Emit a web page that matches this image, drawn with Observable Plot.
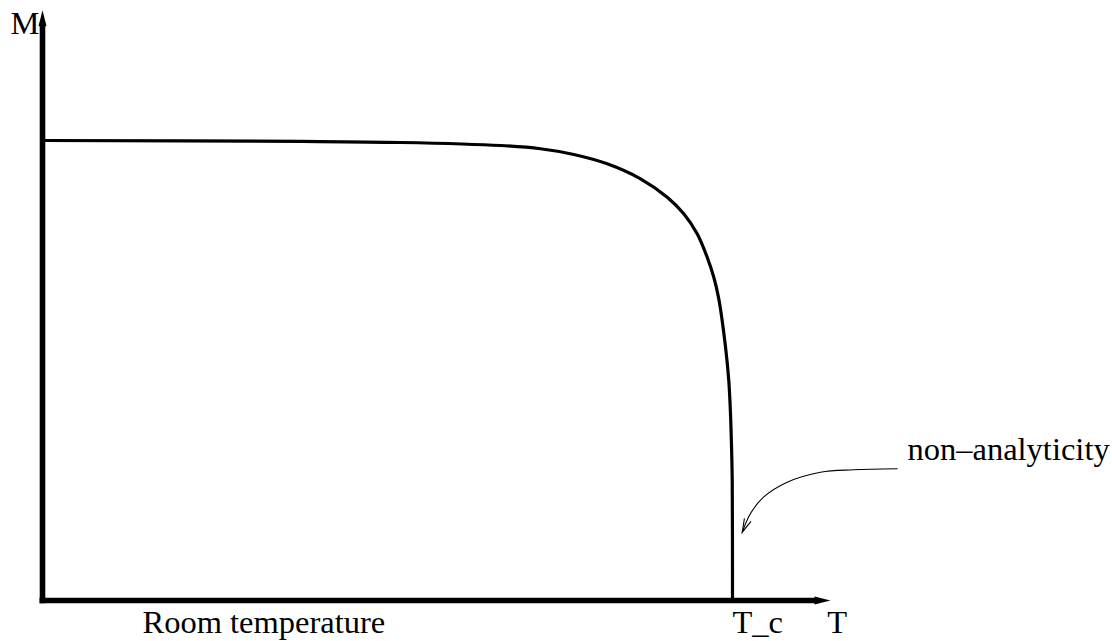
<!DOCTYPE html>
<html><head><meta charset="utf-8">
<script src="https://cdn.jsdelivr.net/npm/d3@7"></script>
<script src="https://cdn.jsdelivr.net/npm/@observablehq/plot@0.6"></script>
<style>html,body{margin:0;padding:0;background:#fff;overflow:hidden}</style>
</head><body><div id="chart"></div>
<script>
// Magnetisation curve M(T), T in units of T_c, M in units of M(0)
const curveT = [0, 0.374, 0.5188, 0.6638, 0.7217, 0.77, 0.8184, 0.8667, 0.9054, 0.9294, 0.9488, 0.9633, 0.9729, 0.9801, 0.9899, 0.9946, 0.9971, 0.9986, 0.9996, 1.0];
const curveM = [1.0, 0.998, 0.9957, 0.9891, 0.982, 0.9696, 0.9493, 0.9167, 0.8767, 0.8407, 0.7972, 0.7463, 0.7028, 0.6559, 0.5507, 0.4783, 0.4059, 0.3333, 0.2609, 0.0];

// annotation leader curve ("non–analyticity")
const annT = [1.2387, 1.1754, 1.1275, 1.0793, 1.0449, 1.0261, 1.0141];
const annM = [0.2863, 0.2841, 0.2789, 0.2572, 0.2246, 0.1891, 0.1485];

// axis extents (data units)
const xAxisT = [-0.0043, 1.142];
const yAxisM = [-0.006, 1.283];

// text labels
const labelText = ["M", "Room temperature", "T_c", "T", "non\u2013analyticity"];
const labelT = [-0.0464, 0.1449, 1.0, 1.1372, 1.2536];
const labelM = [1.2326, -0.0696, -0.0717, -0.0717, 0.3065];

const curve = curveT.map((t, i) => ({T: t, M: curveM[i]}));
const ann = annT.map((t, i) => ({T: t, M: annM[i]}));
const labels = labelText.map((s, i) => ({text: s, T: labelT[i], M: labelM[i]}));
const axes = [
  {x1: xAxisT[0], y1: 0, x2: xAxisT[1], y2: 0, rot: 90},
  {x1: 0, y1: yAxisM[0], x2: 0, y2: yAxisM[1], rot: 0}
];

const triangle = {draw(ctx) { ctx.moveTo(0, 0); ctx.lineTo(4, 16); ctx.lineTo(-4, 16); ctx.closePath(); }};
const chevron = {draw(ctx) { ctx.moveTo(-3.6, 13.5); ctx.lineTo(0, 0); ctx.lineTo(3.6, 13.5); }};

const tip = ann[ann.length - 1];

const chart = Plot.plot({
  width: 1112,
  height: 641,
  marginLeft: 42,
  marginRight: 380,
  marginTop: 140,
  marginBottom: 41,
  x: {domain: [0, 1], axis: null},
  y: {domain: [0, 1], axis: null},
  style: {background: "white", overflow: "hidden"},
  marks: [
    Plot.line(curve, {x: "T", y: "M", curve: "catmull-rom", stroke: "black", strokeWidth: 3.2}),
    Plot.arrow(axes, {x1: "x1", y1: "y1", x2: "x2", y2: "y2", headLength: 0, insetEnd: 12, stroke: "black", strokeWidth: 5.6, strokeLinecap: "butt"}),
    Plot.dot(axes, {x: "x2", y: "y2", symbol: triangle, rotate: "rot", r: 1, fill: "black", stroke: "none"}),
    Plot.line(ann, {x: "T", y: "M", curve: "catmull-rom", stroke: "black", strokeWidth: 1.1}),
    Plot.dot([tip], {x: "T", y: "M", symbol: chevron, rotate: 204, r: 1, fill: "none", stroke: "black", strokeWidth: 1.1}),
    Plot.text(labels, {x: "T", y: "M", text: "text", textAnchor: "start", lineAnchor: "bottom", fontFamily: "Liberation Serif", fontSize: 32.5, fill: "black"})
  ]
});
document.getElementById("chart").appendChild(chart);
</script>
</body></html>
